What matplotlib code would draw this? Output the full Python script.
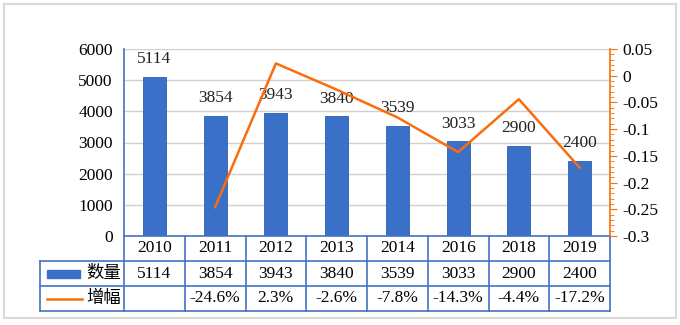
import matplotlib.pyplot as plt
from matplotlib.patches import Rectangle
from matplotlib.lines import Line2D

plt.rcParams['font.family'] = ['Liberation Serif', 'Noto Sans CJK SC']

years = ['2010', '2011', '2012', '2013', '2014', '2016', '2018', '2019']
counts = [5114, 3854, 3943, 3840, 3539, 3033, 2900, 2400]
growth = [None, -0.246, 0.023, -0.026, -0.078, -0.143, -0.044, -0.172]
growth_labels = ['', '-24.6%', '2.3%', '-2.6%', '-7.8%', '-14.3%', '-4.4%', '-17.2%']

BLUE = '#3A70C8'
LINE_BLUE = '#4472C4'
ORANGE = '#F96E0C'
FS = 12.5

fig = plt.figure(figsize=(6.8, 3.25), dpi=100)
fig.patches.append(Rectangle((4 / 680, 7 / 325), 672 / 680, 314 / 325, transform=fig.transFigure,
                             fill=False, edgecolor='#d9d9d9', linewidth=1.5))
ax = fig.add_axes([124 / 680, 1 - 236 / 325, 486 / 680, 187 / 325])

x = list(range(len(years)))
ax.bar(x, counts, width=0.38, color=BLUE, edgecolor='#2F5FB0', linewidth=0.6, zorder=2)
for xi, v in zip(x, counts):
    ax.annotate(str(v), (xi, v), xytext=(0, 7), textcoords='offset points',
                ha='center', va='bottom', fontsize=FS, color='#222222', zorder=3)

ax.set_xlim(-0.5, len(years) - 0.5)
ax.set_ylim(0, 6000)
ax.set_yticks(range(0, 6001, 1000))
ax.set_xticks([])
ax.grid(axis='y', color='#d0d0d0', linewidth=1, zorder=0)
ax.tick_params(axis='y', length=0, labelsize=FS, pad=8)
for s in ['top', 'right', 'bottom']:
    ax.spines[s].set_visible(False)
ax.spines['left'].set_color(LINE_BLUE)
ax.spines['left'].set_linewidth(1.2)

ax2 = ax.twinx()
gx = [xi for xi, g in zip(x, growth) if g is not None]
gy = [g for g in growth if g is not None]
ax2.plot(gx, gy, color=ORANGE, linewidth=1.8, zorder=4)
ax2.set_ylim(-0.3, 0.05)
ticks = [0.05, 0, -0.05, -0.1, -0.15, -0.2, -0.25, -0.3]
ax2.set_yticks(ticks)
ax2.set_yticklabels(['0.05', '0', '-0.05', '-0.1', '-0.15', '-0.2', '-0.25', '-0.3'])
ax2.set_yticks([i / 100 for i in range(-30, 6)], minor=True)
ax2.tick_params(axis='y', which='major', length=5, color=ORANGE, labelsize=FS, pad=4)
ax2.tick_params(axis='y', which='minor', length=3, color=ORANGE)
for s in ['top', 'left', 'bottom']:
    ax2.spines[s].set_visible(False)
ax2.spines['right'].set_color(ORANGE)
ax2.spines['right'].set_linewidth(1.2)

# data table under the axis
rows = [0, -25 / 187, -50 / 187, -75 / 187]
left = (40 - 124) / 486
lw = 1.2
n = len(years)
tr = ax.transAxes
for yv in rows:
    x0 = 0 if yv == 0 else left
    ax.add_line(Line2D([x0, 1], [yv, yv], transform=tr, color=LINE_BLUE, lw=lw, clip_on=False))
for i in range(n + 1):
    ax.add_line(Line2D([i / n, i / n], [0, rows[3]], transform=tr, color=LINE_BLUE, lw=lw, clip_on=False))
ax.add_line(Line2D([left, left], [rows[1], rows[3]], transform=tr, color=LINE_BLUE, lw=lw, clip_on=False))

for i in range(n):
    cx = (i + 0.5) / n
    ax.text(cx, (rows[0] + rows[1]) / 2, years[i], transform=tr, ha='center', va='center', fontsize=FS)
    ax.text(cx, (rows[1] + rows[2]) / 2, str(counts[i]), transform=tr, ha='center', va='center', fontsize=FS)
    ax.text(cx, (rows[2] + rows[3]) / 2, growth_labels[i], transform=tr, ha='center', va='center', fontsize=FS)

# legend keys in table
ym1 = (rows[1] + rows[2]) / 2
ym2 = (rows[2] + rows[3]) / 2
ax.add_patch(Rectangle(((47 - 124) / 486, ym1 - 4 / 187), 33 / 486, 8 / 187, transform=tr,
                       color=BLUE, clip_on=False))
ax.add_line(Line2D([(47 - 124) / 486, (82 - 124) / 486], [ym2, ym2], transform=tr,
                   color=ORANGE, lw=1.8, clip_on=False))
ax.text((104 - 124) / 486, ym1, '数量', transform=tr, ha='center', va='center', fontsize=FS)
ax.text((104 - 124) / 486, ym2, '增幅', transform=tr, ha='center', va='center', fontsize=FS)

fig.savefig('out.png', dpi=100)
